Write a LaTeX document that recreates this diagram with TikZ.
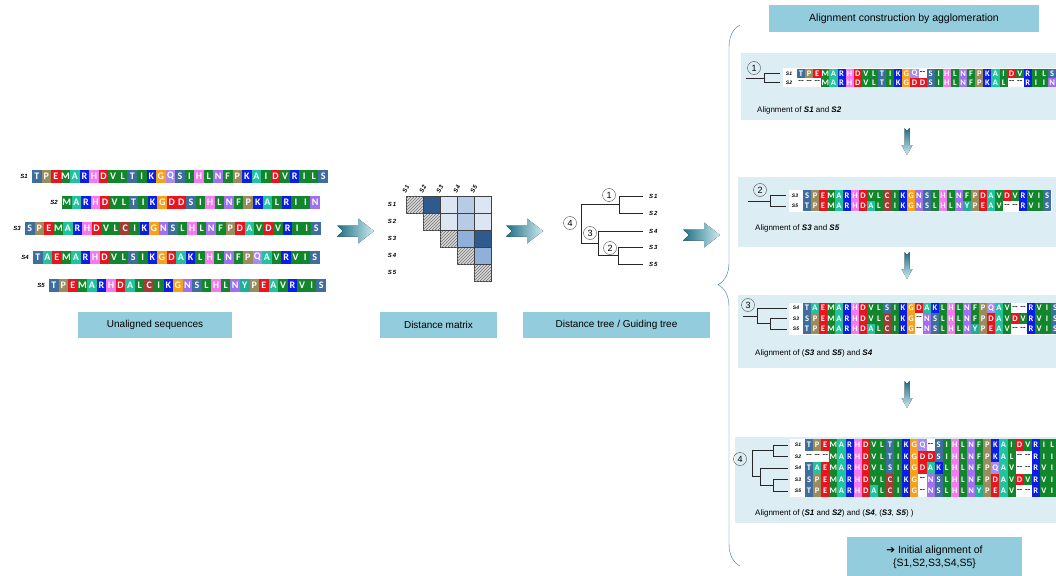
\documentclass[tikz,border=0pt]{standalone}
\usepackage{fontspec}
\setmainfont{Liberation Sans}
\newfontfamily\resfont{Carlito}
\newfontfamily\symfont{DejaVu Sans}
\usetikzlibrary{patterns,decorations.pathreplacing}

% residue colours
\definecolor{resA}{HTML}{1FC49E}
\definecolor{resR}{HTML}{0A1EE6}
\definecolor{resN}{HTML}{A070F0}
\definecolor{resD}{HTML}{E8141E}
\definecolor{resC}{HTML}{A33C34}
\definecolor{resQ}{HTML}{A98AEE}
\definecolor{resE}{HTML}{E8141E}
\definecolor{resG}{HTML}{F7A11A}
\definecolor{resH}{HTML}{F47AF0}
\definecolor{resI}{HTML}{12862A}
\definecolor{resL}{HTML}{12862A}
\definecolor{resK}{HTML}{0A1EE6}
\definecolor{resM}{HTML}{12862A}
\definecolor{resF}{HTML}{12862A}
\definecolor{resP}{HTML}{9B8C5E}
\definecolor{resS}{HTML}{3F6E9E}
\definecolor{resT}{HTML}{3F6E9E}
\definecolor{resW}{HTML}{12862A}
\definecolor{resY}{HTML}{1FAE96}
\definecolor{resV}{HTML}{12862A}
% other colours
\definecolor{boxblue}{HTML}{93CDDD}
\definecolor{panelblue}{HTML}{DCEEF4}
\definecolor{arrdark}{HTML}{1D6F83}
\definecolor{arrlight}{HTML}{CDEBF1}
\definecolor{bracecol}{HTML}{3C6EB4}
\definecolor{mdark}{HTML}{2E5A8E}
\definecolor{mmed}{HTML}{8EB0DA}
\definecolor{mmid}{HTML}{B7CCE4}
\definecolor{mlight}{HTML}{DCE6F2}

% one row of coloured residues: name, cell style, x0, y, width, letters
\newcount\rescnt
\def\gapch{-}
\makeatletter
\newcommand\seqrow[6]{%
  \global\rescnt=0
  \@tfor\rr:=#6\do{%
    \ifx\rr\gapch
      \node[gapres, #2] (#1-\the\rescnt) at (#3+#5*\the\rescnt+#5/2, #4) {--};
    \else
      \node[res, fill=res\rr, #2] (#1-\the\rescnt) at (#3+#5*\the\rescnt+#5/2, #4) {\rr};
    \fi
    \global\advance\rescnt by 1}}
\makeatother

\tikzset{
  fatarrow/.pic={
    \fill[left color=arrdark, middle color=arrdark!75!arrlight, right color=arrlight]
      (0,-5.5) -- (21,-5.5) -- (21,-12.5) -- (37,0) -- (21,12.5) -- (21,5.5) -- (0,5.5) -- (6,0) -- cycle;
  },
  downarrow/.pic={
    \fill[top color=arrdark, bottom color=arrlight]
      (-2.5,0) -- (0,3) -- (2.5,0) -- (2.5,17) -- (5.5,17) -- (0,27) -- (-5.5,17) -- (-2.5,17) -- cycle;
  }
}

\begin{document}
\begin{tikzpicture}[x=1pt, y=-1pt,
  res/.style={inner sep=0, outer sep=0, text=white},
  gapres/.style={inner sep=0, outer sep=0, fill=white, text=black!85},
  bigcell/.style={minimum width=9.6pt, minimum height=13pt, font=\resfont\bfseries\fontsize{10}{10}\selectfont},
  smallcell/.style={minimum width=8.1pt, minimum height=#1, font=\resfont\bfseries\fontsize{8.5}{8.5}\selectfont},
  seqlab/.style={inner sep=0, font=\bfseries\itshape\fontsize{5}{5}\selectfont},
  biglab/.style={inner sep=0, font=\bfseries\itshape\fontsize{6}{6}\selectfont},
  capbox/.style={fill=boxblue, minimum height=26pt, inner sep=0, font=\fontsize{10}{12}\selectfont},
  panel/.style={fill=panelblue, anchor=north west, inner sep=0},
  numcirc/.style={circle, draw=black!70, inner sep=0, minimum size=13pt, font=\fontsize{9}{9}\selectfont},
  tree/.style={draw=black!85, line width=0.8pt},
  caption/.style={anchor=west, inner sep=0, font=\fontsize{8}{9}\selectfont},
  mcell/.style={draw=black!75},
  hatchcell/.style={draw=black!75, fill=gray!30, postaction={pattern=north east lines, pattern color=black!55}}]

\useasboundingbox (0,0) rectangle (1056,575);

% ---- unaligned sequences
\node[biglab, anchor=east] (u1l) at (28,176) {S1};
\node[biglab, anchor=east] (u2l) at (58,202) {S2};
\node[biglab, anchor=east] (u3l) at (21,228) {S3};
\node[biglab, anchor=east] (u4l) at (29,257) {S4};
\node[biglab, anchor=east] (u5l) at (45,285) {S5};
\seqrow{u1}{bigcell}{32}{176}{9.55}{TPEMARHDVLTIKGQSIHLNFPKAIDVRILS}
\seqrow{u2}{bigcell}{62}{202}{9.55}{MARHDVLTIKGDDSIHLNFPKALRIIN}
\seqrow{u3}{bigcell}{25}{228}{9.55}{SPEMARHDVLCIKGNSLHLNFPDAVDVRIIS}
\seqrow{u4}{bigcell}{33}{257}{9.55}{TAEMARHDVLSIKGDAKLHLNFPQAVRVIS}
\seqrow{u5}{bigcell}{49}{285}{9.55}{TPEMARHDALCIKGNSLHLNYPEAVRVIS}
\node[capbox, minimum width=154pt] (unal) at (155,325) {Unaligned sequences};

\pic at (337,231) {fatarrow};

% ---- distance matrix
\foreach \i in {1,...,5} {
  \node[biglab] (mr\i) at (392,187.5+17*\i) {S\,\i};
  \node[biglab, rotate=65, anchor=west] (mc\i) at (387+17*\i,193) {S\,\i};
  \draw[hatchcell] (389+17*\i,179+17*\i) rectangle +(17,17);
}
\foreach \r/\c/\col in {1/2/mdark, 1/3/mlight, 1/4/mmid, 1/5/mlight,
                        2/3/mlight, 2/4/mmid, 2/5/mlight,
                        3/4/mmed, 3/5/mdark, 4/5/mmed}
  \draw[mcell, fill=\col] (389+17*\c,179+17*\r) rectangle +(17,17);
\node[capbox, minimum width=117pt] (dmat) at (438.5,325) {Distance matrix};

\pic at (506,231) {fatarrow};

% ---- guiding tree
\coordinate (t1) at (643,196);
\coordinate (t2) at (643,213);
\coordinate (t4) at (643,231);
\coordinate (t3) at (643,247);
\coordinate (t5) at (643,264);
\coordinate (n1) at (619,204.5);
\coordinate (n2) at (618,255.5);
\coordinate (n3) at (598,243.25);
\coordinate (n4) at (581,223.9);
\draw[tree] (t1) -| (n1) |- (t2);
\draw[tree] (t3) -| (n2) |- (t5);
\draw[tree] (t4) -| (n3) |- (n2);
\draw[tree] (n1) -| (n4) |- (n3);
\foreach \s in {1,...,5}
  \node[biglab, anchor=west] (tl\s) at ([xshift=6pt]t\s) {S\,\s};
\node[numcirc] (c1) at (609,195) {1};
\node[numcirc] (c2) at (610,248) {2};
\node[numcirc] (c3) at (590,233) {3};
\node[numcirc] (c4) at (570,223) {4};
\node[capbox, minimum width=187pt] (gtree) at (616.5,325) {Distance tree / Guiding tree};

\pic at (683,235) {fatarrow};

% ---- agglomeration
\draw[bracecol, decorate, decoration={brace, amplitude=22pt, aspect=0.52}] (740,566) -- (740,25);
\node[capbox, minimum width=270pt, minimum height=27pt, font=\fontsize{10.5}{12}\selectfont]
  (agg) at (904,18.5) {Alignment construction by agglomeration};

\node[panel, minimum width=315pt, minimum height=67pt] (p1) at (741,53) {};
\node[panel, minimum width=318pt, minimum height=70pt] (p2) at (738,177) {};
\node[panel, minimum width=318pt, minimum height=73pt] (p3) at (738,295) {};
\node[panel, minimum width=321pt, minimum height=86pt] (p4) at (735,437) {};

\pic at (907,128) {downarrow};
\pic at (907,252) {downarrow};
\pic at (907,381) {downarrow};

\begin{scope}
\clip (0,0) rectangle (1056,575);

% step 1
\fill[white] (783,68.5) rectangle (1056,87);
\node[numcirc] (s1c) at (754,68) {1};
\coordinate (s1t1) at (780,73.5);
\coordinate (s1t2) at (780,82.5);
\coordinate (s1n) at (764,78);
\coordinate (s1r) at (746,78);
\draw[tree] (s1t1) -| (s1n) |- (s1t2);
\draw[tree] (s1r) -- (s1n);
\node[seqlab] (s1l1) at (789,73.5) {S1};
\node[seqlab] (s1l2) at (789,82.5) {S2};
\seqrow{a1}{smallcell=8.5pt}{797}{73.5}{8.1}{TPEMARHDVLTIKGQ-SIHLNFPKAIDVRILS}
\seqrow{a2}{smallcell=8.5pt}{797}{82.5}{8.1}{---MARHDVLTIKGDDSIHLNFPKAL--RIIN}
\node[caption] (cap1) at (757,110) {Alignment of \textbf{\textit{S1}} and \textbf{\textit{S2}}};

% step 2
\fill[white] (789,190) rectangle (1052,211.5);
\node[numcirc] (s2c) at (760,190) {2};
\coordinate (s2t3) at (786,195.5);
\coordinate (s2t5) at (786,206);
\coordinate (s2n) at (770,201);
\coordinate (s2r) at (748,201);
\draw[tree] (s2t3) -| (s2n) |- (s2t5);
\draw[tree] (s2r) -- (s2n);
\node[seqlab] (s2l3) at (795,195.5) {S3};
\node[seqlab] (s2l5) at (795,206) {S5};
\seqrow{b3}{smallcell=10.5pt}{803}{195.5}{8}{SPEMARHDVLCIKGNSLHLNFPDAVDVRVIS}
\seqrow{b5}{smallcell=10.5pt}{803}{206}{8}{TPEMARHDALCIKGNSLHLNYPEAV--RVIS}
\node[caption] (cap2) at (755,228) {Alignment of \textbf{\textit{S3}} and \textbf{\textit{S5}}};

% step 3
\fill[white] (789,302.5) rectangle (1056,334.5);
\node[numcirc] (s3c) at (748,305) {3};
\coordinate (s3t4) at (787,308);
\coordinate (s3t3) at (787,318.5);
\coordinate (s3t5) at (787,329);
\coordinate (s3n2) at (770,323.75);
\coordinate (s3n3) at (757,315.9);
\coordinate (s3r) at (743,315.9);
\draw[tree] (s3t3) -| (s3n2) |- (s3t5);
\draw[tree] (s3t4) -| (s3n3) |- (s3n2);
\draw[tree] (s3r) -- (s3n3);
\node[seqlab] (s3l4) at (796,308) {S4};
\node[seqlab] (s3l3) at (796,318.5) {S3};
\node[seqlab] (s3l5) at (796,329) {S5};
\seqrow{c4}{smallcell=10.5pt}{803}{308}{8}{TAEMARHDVLSIKGDAKLHLNFPQAV--RVIS}
\seqrow{c3}{smallcell=10.5pt}{803}{318.5}{8}{SPEMARHDVLCIKG-NSLHLNFPDAVDVRVIS}
\seqrow{c5}{smallcell=10.5pt}{803}{329}{8}{TPEMARHDALCIKG-NSLHLNYPEAV--RVIS}
\node[caption] (cap3) at (755,353) {Alignment of (\textbf{\textit{S3}} and \textbf{\textit{S5}}) and \textbf{\textit{S4}}};

% step 4
\fill[white] (790,439) rectangle (1056,497);
\node[numcirc] (s4c) at (740,459) {4};
\coordinate (s4t1) at (788,445);
\coordinate (s4t2) at (788,456.5);
\coordinate (s4t4) at (788,468);
\coordinate (s4t3) at (788,479.5);
\coordinate (s4t5) at (788,491);
\coordinate (s4n1) at (773,450.75);
\coordinate (s4n2) at (773,485.25);
\coordinate (s4n3) at (760,476.6);
\coordinate (s4n4) at (752,463.7);
\draw[tree] (s4t1) -| (s4n1) |- (s4t2);
\draw[tree] (s4t3) -| (s4n2) |- (s4t5);
\draw[tree] (s4t4) -| (s4n3) |- (s4n2);
\draw[tree] (s4n1) -| (s4n4) |- (s4n3);
\node[seqlab] (s4l1) at (798,445) {S1};
\node[seqlab] (s4l2) at (798,456.5) {S2};
\node[seqlab] (s4l4) at (798,468) {S4};
\node[seqlab] (s4l3) at (798,479.5) {S3};
\node[seqlab] (s4l5) at (798,491) {S5};
\seqrow{d1}{smallcell=11.5pt}{805}{445}{8.1}{TPEMARHDVLTIKGQ-SIHLNFPKAIDVRIL}
\seqrow{d2}{smallcell=11.5pt}{805}{456.5}{8.1}{---MARHDVLTIKGDDSIHLNFPKAL--RII}
\seqrow{d4}{smallcell=11.5pt}{805}{468}{8.1}{TAEMARHDVLSIKGDAKLHLNFPQAV--RVI}
\seqrow{d3}{smallcell=11.5pt}{805}{479.5}{8.1}{SPEMARHDVLCIKG-NSLHLNFPDAVDVRVI}
\seqrow{d5}{smallcell=11.5pt}{805}{491}{8.1}{TPEMARHDALCIKG-NSLHLNYPEAV--RVI}
\node[caption] (cap4) at (755,513) {Alignment of (\textbf{\textit{S1}} and \textbf{\textit{S2}}) and (\textbf{\textit{S4}}, (\textbf{\textit{S3}}, \textbf{\textit{S5}}) )};

\node[capbox, minimum width=175pt, minimum height=40pt, align=center, anchor=north,
      font=\fontsize{10.5}{13}\selectfont]
  (final) at (934.5,537) {{\symfont ➔} Initial alignment of\\\{S1,S2,S3,S4,S5\}};
\end{scope}
\end{tikzpicture}
\end{document}
